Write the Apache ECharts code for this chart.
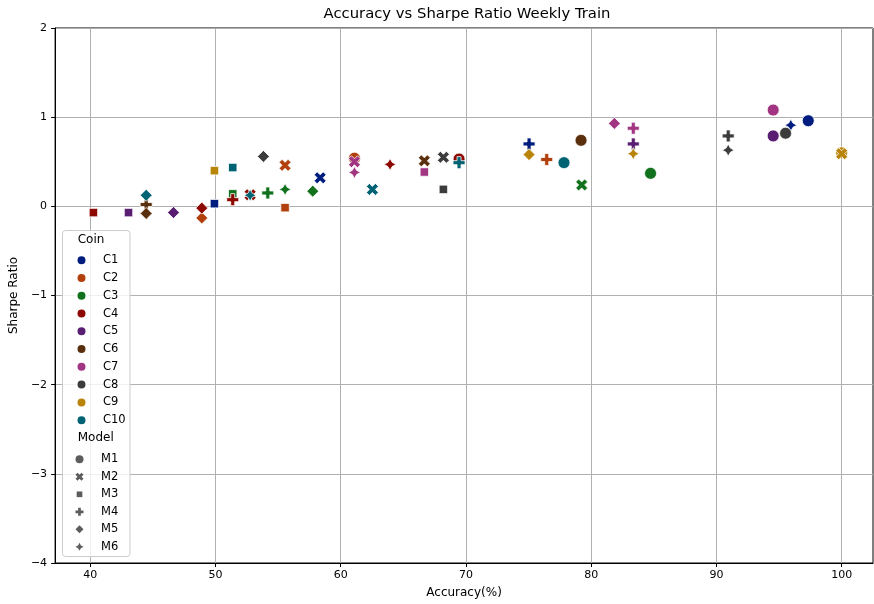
<!DOCTYPE html>
<html><head><meta charset="utf-8">
<script src="https://cdn.jsdelivr.net/npm/echarts@6/dist/echarts.min.js"></script>
<style>html,body{margin:0;padding:0;background:#fff}#c{width:874px;height:604px}</style>
</head><body><div id="c"></div>
<script>
// ---- data ----
const coins = ['C1','C2','C3','C4','C5','C6','C7','C8','C9','C10'];
const coinColors = ['#001c7f','#b1400d','#12711c','#8c0800','#591e71','#592f0d','#a23582','#3c3c3c','#b8850a','#006374'];
const models = ['M1','M2','M3','M4','M5','M6'];
const xTicks = [40,50,60,70,80,90,100];
const yTicks = [-4,-3,-2,-1,0,1,2];
// [model, accuracy(%), sharpe ratio]
const c1  = [['M1',97.33,0.96],['M2',58.36,0.32],['M3',49.92,0.03],['M4',75.04,0.70],['M6',95.94,0.91]];
const c2  = [['M1',61.10,0.54],['M2',55.56,0.46],['M3',55.56,-0.015],['M4',76.45,0.525],['M5',48.91,-0.13]];
const c3  = [['M1',84.74,0.37],['M2',79.24,0.24],['M3',51.38,0.14],['M4',54.18,0.15],['M5',57.77,0.17],['M6',55.56,0.19]];
const c4  = [['M1',69.45,0.53],['M2',52.77,0.13],['M3',40.26,-0.07],['M4',51.38,0.075],['M5',48.91,-0.02],['M6',63.94,0.47]];
const c5  = [['M1',94.53,0.79],['M3',43.06,-0.07],['M4',83.36,0.70],['M5',46.65,-0.07]];
const c6  = [['M1',79.19,0.74],['M2',66.68,0.51],['M4',44.47,0.02],['M5',44.47,-0.08]];
const c7  = [['M1',94.53,1.08],['M2',61.10,0.50],['M3',66.68,0.385],['M4',83.36,0.876],['M5',81.85,0.93],['M6',61.10,0.38]];
const c8  = [['M1',95.52,0.82],['M2',68.20,0.55],['M3',68.20,0.19],['M4',90.94,0.79],['M5',53.83,0.56],['M6',90.94,0.63]];
const c9  = [['M1',100.0,0.60],['M2',100.0,0.59],['M3',49.92,0.40],['M5',75.04,0.58],['M6',83.36,0.59]];
const c10 = [['M1',77.83,0.49],['M2',62.53,0.19],['M3',51.38,0.435],['M4',69.45,0.49],['M5',44.47,0.124],['M6',52.77,0.124]];
const coinData = [c1,c2,c3,c4,c5,c6,c7,c8,c9,c10];

// ---- marker shapes (matplotlib-like) ----
const markerPaths = {
  M1: 'circle',
  M2: 'path://M-25,-50L0,-25L25,-50L50,-25L25,0L50,25L25,50L0,25L-25,50L-50,25L-25,0L-50,-25Z',
  M3: 'path://M-50,-50M50,50M-35.36,-35.36L35.36,-35.36L35.36,35.36L-35.36,35.36Z',
  M4: 'path://M-16.67,-50L16.67,-50L16.67,-16.67L50,-16.67L50,16.67L16.67,16.67L16.67,50L-16.67,50L-16.67,16.67L-50,16.67L-50,-16.67L-16.67,-16.67Z',
  M5: 'path://M0,-50L50,0L0,50L-50,0Z',
  M6: 'path://M0,-50L17.68,-17.68L50,0L17.68,17.68L0,50L-17.68,17.68L-50,0L-17.68,-17.68Z'
};
const FONT = 'DejaVu Sans';
const minusFmt = v => (v < 0 ? '\u2212' + Math.abs(v) : String(v));

const series = [];
coins.forEach((c, i) => {
  series.push({
    name: c, type: 'scatter', symbolSize: 12,
    itemStyle: { color: coinColors[i], borderColor: '#ffffff', borderWidth: 0.8, opacity: 1 },
    emphasis: { disabled: true },
    data: coinData[i].map(d => ({ value: [d[1], d[2]], symbol: markerPaths[d[0]] }))
  });
});
models.forEach(m => {
  series.push({ name: m, type: 'scatter', symbol: markerPaths[m], itemStyle: { color: '#333333' }, data: [] });
});

const chart = echarts.init(document.getElementById('c'), null, { renderer: 'canvas' });
chart.setOption({
  animation: false,
  backgroundColor: '#ffffff',
  textStyle: { fontFamily: FONT },
  title: {
    text: 'Accuracy vs Sharpe Ratio Weekly Train',
    left: 467, top: 7, textAlign: 'center', padding: 0,
    textStyle: { fontFamily: FONT, fontSize: 14.8, fontWeight: 'normal', color: '#000' }
  },
  grid: { left: 55, right: 1, top: 28, bottom: 41, show: true, borderColor: '#000', borderWidth: 1, backgroundColor: 'transparent' },
  xAxis: {
    type: 'value', min: 37.2, max: 102.5,
    name: 'Accuracy(%)', nameLocation: 'middle', nameGap: 24,
    nameTextStyle: { fontFamily: FONT, fontSize: 12, color: '#000' },
    axisLine: { show: true, onZero: false, lineStyle: { color: '#000', width: 1 } },
    axisTick: { show: true, length: 4, customValues: xTicks, lineStyle: { color: '#000' } },
    axisLabel: { customValues: xTicks, margin: 7, fontFamily: FONT, fontSize: 11, color: '#000' },
    splitLine: { show: true, lineStyle: { color: '#b0b0b0', width: 1 } }
  },
  yAxis: {
    type: 'value', min: -4, max: 2, interval: 1,
    name: 'Sharpe Ratio', nameLocation: 'middle', nameGap: 29, nameRotate: 90,
    nameTextStyle: { fontFamily: FONT, fontSize: 12, color: '#000' },
    axisLine: { show: true, onZero: false, lineStyle: { color: '#000', width: 1 } },
    axisTick: { show: true, length: 4, lineStyle: { color: '#000' } },
    axisLabel: { margin: 8, fontFamily: FONT, fontSize: 11, color: '#000', formatter: minusFmt },
    splitLine: { show: true, lineStyle: { color: '#b0b0b0', width: 1 } }
  },
  legend: [
    {
      orient: 'vertical', left: 75.5, top: 254.3, padding: 0,
      itemWidth: 33, itemHeight: 10, itemGap: 5.76, selectedMode: false,
      textStyle: { fontFamily: FONT, fontSize: 11.5, lineHeight: 8, color: '#000' },
      data: coins.map(c => ({ name: c, icon: 'circle' }))
    },
    {
      orient: 'vertical', left: 75.5, top: 453.3, padding: 0,
      itemWidth: 33, itemHeight: 8, itemGap: 5.5, selectedMode: false,
      textStyle: { fontFamily: FONT, fontSize: 11.5, lineHeight: 8, color: '#000' },
      data: models.map(m => ({ name: m, icon: markerPaths[m] }))
    }
  ],
  graphic: [
    { type: 'rect', z: 3, shape: { x: 62.5, y: 230.5, width: 67.5, height: 326, r: 3 },
      style: { fill: 'rgba(255,255,255,0.8)', stroke: '#cccccc', lineWidth: 1 } },
    { type: 'text', z: 5, x: 77.7, y: 240, style: { text: 'Coin', font: '12px "DejaVu Sans"', fill: '#000', textVerticalAlign: 'middle', verticalAlign: 'middle' } },
    { type: 'text', z: 5, x: 77.7, y: 438.3, style: { text: 'Model', font: '12px "DejaVu Sans"', fill: '#000', textVerticalAlign: 'middle', verticalAlign: 'middle' } }
  ],
  series: series
});
</script></body></html>
